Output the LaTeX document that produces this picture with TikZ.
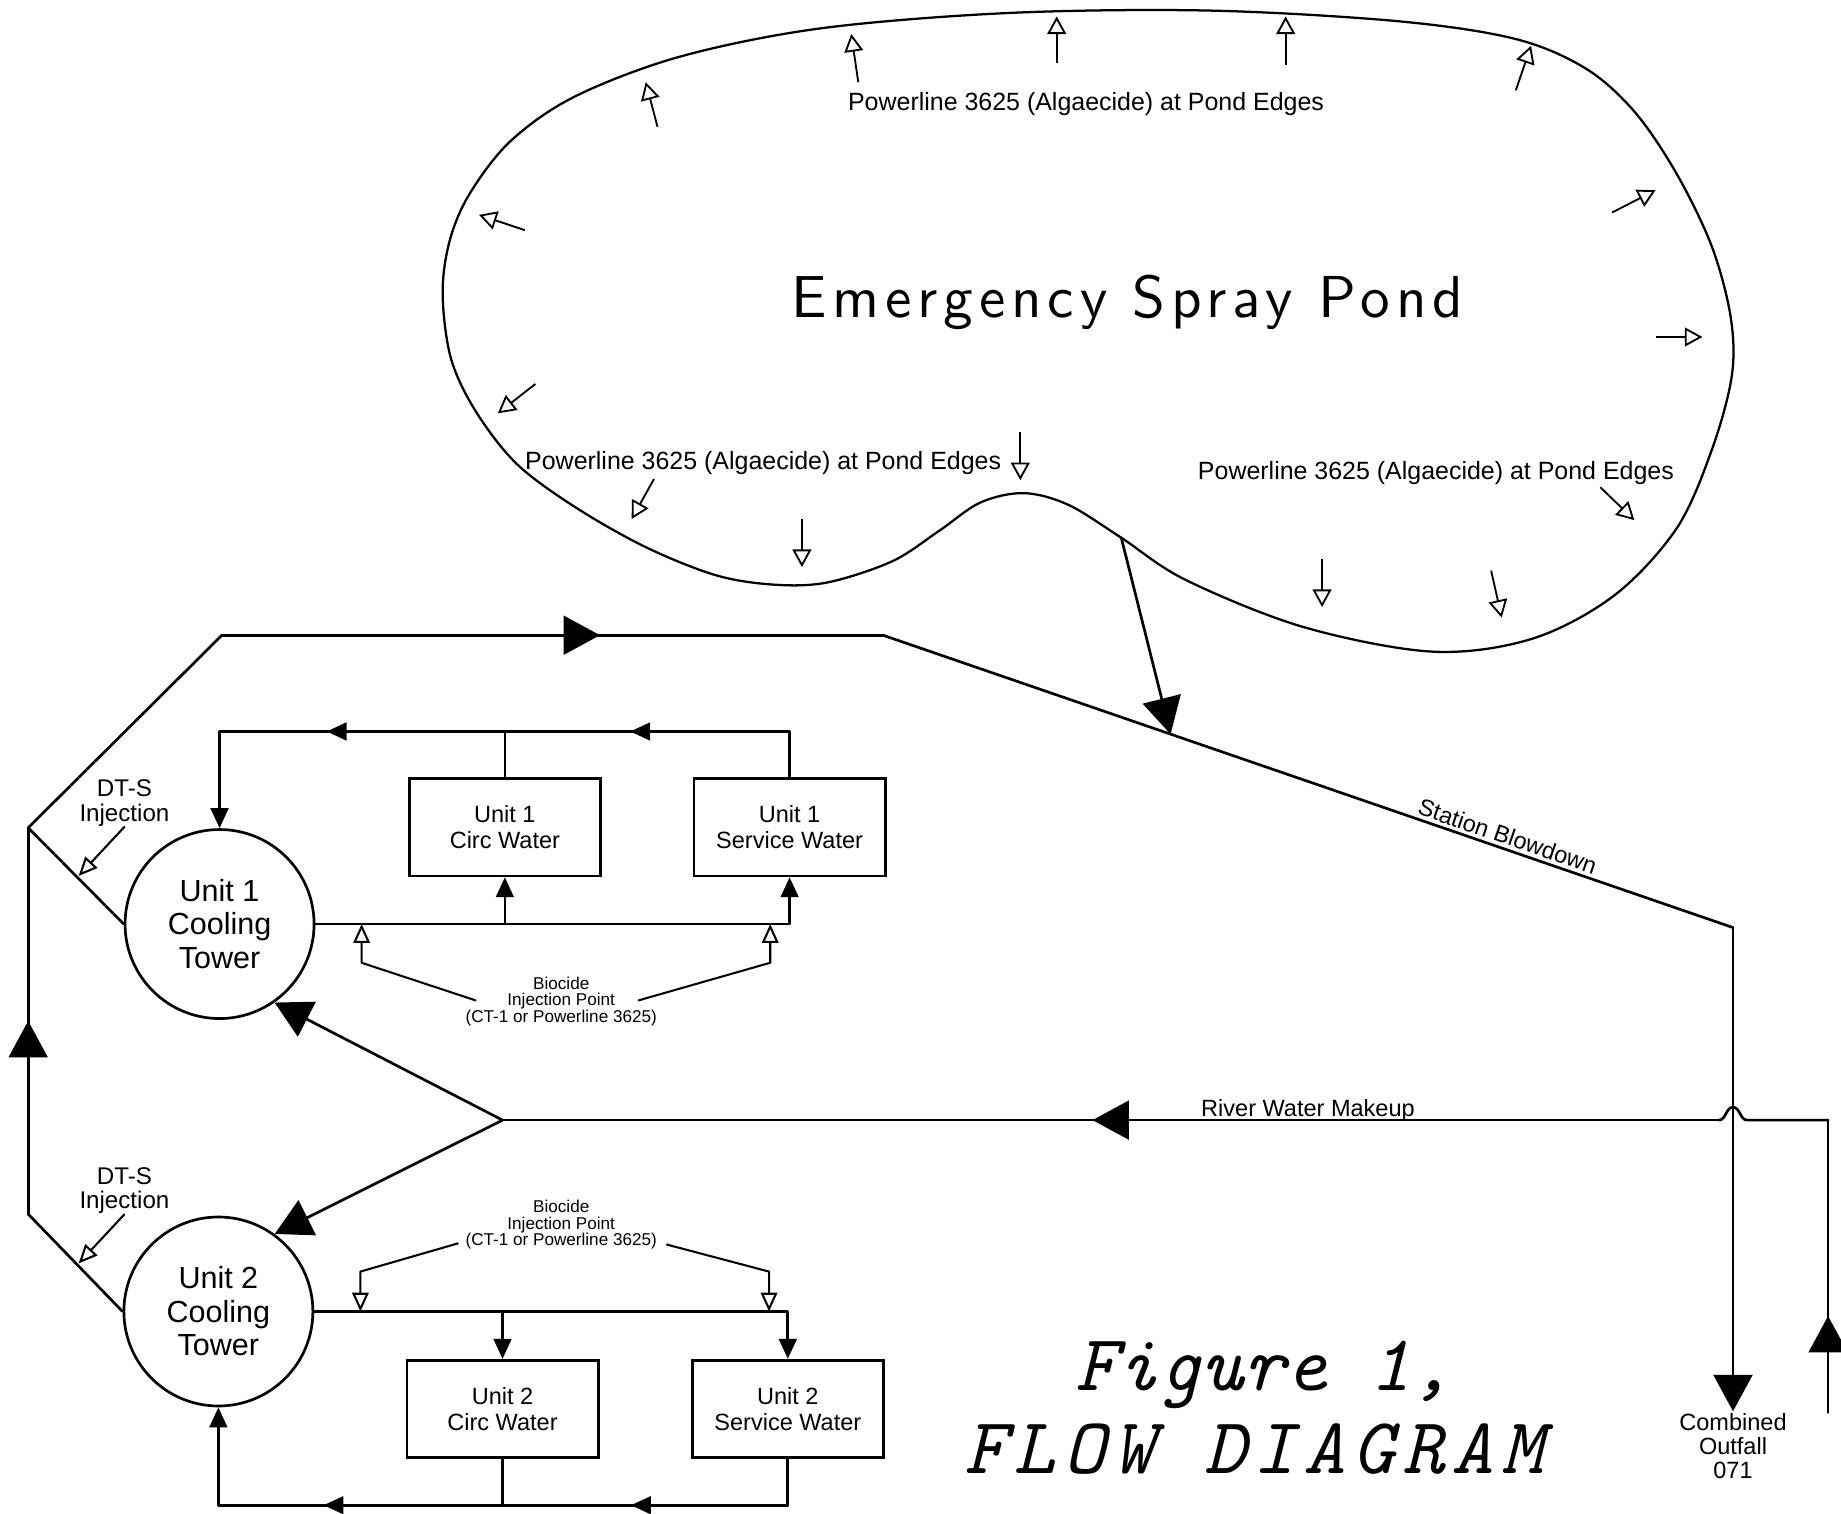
\documentclass[tikz,border=0pt]{standalone}
\usepackage{fontspec}
\setmainfont{Liberation Sans}
\newfontfamily\pondfont[LetterSpace=10]{lmsans10-regular.otf}
\newfontfamily\figfont{lmmono10-italic.otf}
\newfontfamily\figfontwide[LetterSpace=9.5]{lmmono10-italic.otf}
\usetikzlibrary{arrows.meta,decorations.markings}
\tikzset{
  flow/.style={line width=1.3pt, line cap=round, line join=round},
  thinline/.style={line width=1.0pt, line cap=round, line join=round},
  bigtip/.style={-{Triangle[length=0.62cm,width=0.66cm]}},
  midtip/.style={-{Triangle[length=0.34cm,width=0.3cm]}},
  opentip/.style={-{Triangle[open,length=0.32cm,width=0.28cm]}},
  pondtip/.style={line width=0.9pt,-{Triangle[open,length=0.3cm,width=0.32cm]}},
  bigmark/.style={postaction={decorate},decoration={markings,mark=at position #1 with {\arrow{Triangle[length=0.62cm,width=0.66cm]}}}},
  midmark/.style={postaction={decorate},decoration={markings,mark=at position #1 with {\arrow{Triangle[length=0.34cm,width=0.3cm]}}}},
  unitbox/.style={draw, line width=1.3pt, minimum width=3.26cm, minimum height=1.66cm, inner sep=0pt, align=center, font=\fontsize{11.4}{12.5}\selectfont},
  tower/.style={draw, circle, line width=1.3pt, minimum size=3.22cm, inner sep=0pt, align=center, font=\fontsize{14.8}{16.2}\selectfont},
  pondlabel/.style={inner sep=0pt, font=\fontsize{12.1}{13}\selectfont},
  smalllabel/.style={inner sep=0pt, align=center, font=\fontsize{11.7}{12}\selectfont},
  biolabel/.style={inner sep=0pt, align=center, font=\fontsize{8.3}{8}\selectfont},
}
\begin{document}
\begin{tikzpicture}[x=0.02cm,y=-0.02cm]
\useasboundingbox (0,0) rectangle (1568,1289);

% ---------------- Pond ----------------
\draw[line width=1.1pt] plot[smooth cycle, tension=0.55] coordinates {
 (377,250) (384,305) (405,350) (440,395) (490,432) (550,466) (610,490)
 (660,498) (705,496) (760,478) (800,452) (835,428) (872,420) (910,430)
 (955,458) (1010,494) (1110,534) (1220,555) (1305,544) (1375,507) (1428,450)
 (1458,383) (1475,320) (1474,270) (1458,210) (1428,148) (1392,95) (1350,58)
 (1290,33) (1190,18) (1030,9) (860,11) (700,24) (580,48) (490,82) (435,120)
 (400,165) (383,205)};
\coordinate (pondout) at (955,458);

\node[anchor=base, inner sep=0pt, font=\pondfont\fontsize{28.7}{30}\selectfont] (pondtitle) at (960,270) {Emergency Spray Pond};
\node[pondlabel] (pl1) at (925,89) {Powerline 3625 (Algaecide) at Pond Edges};
\node[pondlabel] (pl2) at (650,394) {Powerline 3625 (Algaecide) at Pond Edges};
\node[pondlabel] (pl3) at (1223,403) {Powerline 3625 (Algaecide) at Pond Edges};

\draw[pondtip] (560,108) -- (550,70);
\draw[pondtip] (731,70) -- (725,29);
\draw[pondtip] (900,54) -- (900,14);
\draw[pondtip] (1095,55) -- (1095,14);
\draw[pondtip] (1291,77) -- (1304,39);
\draw[pondtip] (1373,181) -- (1410,162);
\draw[pondtip] (1410,287) -- (1450,287);
\draw[pondtip] (447,196) -- (408,183);
\draw[pondtip] (456,327) -- (424,352);
\draw[pondtip] (869,368) -- (869,409);
\draw[pondtip] (557,408) -- (538,442);
\draw[pondtip] (683,442) -- (683,483);
\draw[pondtip] (1126,476) -- (1126,517);
\draw[pondtip] (1270,486) -- (1279,526);
\draw[pondtip] (1363,415) -- (1392,443);

% ---------------- Nodes ----------------
\node[tower] (ct1) at (187,787) {Unit 1\\Cooling\\Tower};
\node[tower] (ct2) at (186,1117) {Unit 2\\Cooling\\Tower};
\node[unitbox] (cw1) at (430,704.5) {Unit 1\\Circ Water};
\node[unitbox] (sw1) at (672.5,704.5) {Unit 1\\Service Water};
\node[unitbox] (cw2) at (428,1200) {Unit 2\\Circ Water};
\node[unitbox] (sw2) at (671,1200) {Unit 2\\Service Water};
\node[smalllabel] (dts1) at (106,684) {DT-S\\Injection};
\node[smalllabel] (dts2) at (106,1014) {DT-S\\Injection};
\node[biolabel] (bio1) at (478,853) {Biocide\\Injection Point\\(CT-1 or Powerline 3625)};
\node[biolabel] (bio2) at (478,1043) {Biocide\\Injection Point\\(CT-1 or Powerline 3625)};
\node[anchor=north, inner sep=1pt, align=center, font=\fontsize{11.4}{11.6}\selectfont] (outfall) at (1476,1202) {Combined\\Outfall\\071};
\node[anchor=base, inner sep=0pt, font=\fontsize{11.4}{12}\selectfont] (rwm) at (1114,951) {River Water Makeup};
\node[anchor=base west, inner sep=0pt, font=\figfont\fontsize{38.7}{40}\selectfont] (fig1) at (916,1184) {Figure 1,};
\node[anchor=base west, inner sep=0pt, font=\figfontwide\fontsize{38.7}{40}\selectfont] (fig2) at (821,1255) {FLOW DIAGRAM};

% ---------------- Coordinates ----------------
\coordinate (lb) at (24,1034);
\coordinate (lt) at (24,705);
\coordinate (tl) at (189,541);
\coordinate (tr) at (752,541);
\coordinate (br) at (1476,790);
\coordinate (bdj) at (997,625.3);
\coordinate (riv) at (1557,1203);
\coordinate (rc) at (1557,954);
\coordinate (jmpR) at (1488,954);
\coordinate (jmpL) at (1464,954);
\coordinate (rj) at (428,954);
\coordinate (j1c) at (430,787);
\coordinate (t1c) at (430,623);
\coordinate (t1r) at (672.5,623);
\coordinate (t1l) at (187,623);
\coordinate (j2c) at (428,1117);
\coordinate (b2c) at (428,1282);
\coordinate (b2r) at (671,1282);
\coordinate (b2l) at (186,1282);

% ---------------- Station loop ----------------
\draw[flow] (ct2.west) -- (lb);
\draw[flow, bigmark=0.5] (lb) -- (lt);
\draw[flow] (ct1.west) -- (lt);
\draw[flow] (lt) -- (tl);
\draw[flow, bigmark=0.572] (tl) -- (tr);
\draw[flow] (tr) -- node[sloped, above, pos=0.73, inner sep=1.5pt, font=\fontsize{11.4}{12}\selectfont] {Station Blowdown} (br);
\draw[flow, bigtip] (br) -- (outfall.north);
\draw[flow, bigtip] (pondout) -- (bdj);

% ---------------- River water ----------------
\draw[flow, bigmark=0.33] (riv) -- (rc);
\draw[flow] (rc) -- (jmpR) .. controls (1482,954) and (1482,943) .. (1476,943) .. controls (1470,943) and (1470,954) .. (jmpL);
\draw[flow, bigmark=0.515] (jmpL) -- (rj);
\draw[flow, bigtip] (rj) -- (ct1.-55);
\draw[flow, bigtip] (rj) -- (ct2.54);

% ---------------- Unit 1 loop ----------------
\draw[flow, midtip] (ct1.east) -| (sw1.south);
\draw[flow, midtip] (j1c) -- (cw1.south);
\draw[flow] (cw1.north) -- (t1c);
\draw[flow] (sw1.north) -- (t1r);
\draw[flow, midmark=0.56] (t1r) -- (t1c);
\draw[flow, midmark=0.625] (t1c) -- (t1l);
\draw[flow, midtip] (t1l) -- (ct1.north);

% ---------------- Unit 2 loop ----------------
\draw[flow, midtip] (ct2.east) -| (sw2.north);
\draw[flow, midtip] (j2c) -- (cw2.north);
\draw[flow] (cw2.south) -- (b2c);
\draw[flow] (sw2.south) -- (b2r);
\draw[flow, midmark=0.55] (b2r) -- (b2c);
\draw[flow, midmark=0.63] (b2c) -- (b2l);
\draw[flow, midtip] (b2l) -- (ct2.south);

% ---------------- Injection leaders ----------------
\coordinate (bio1l) at (405,852);
\coordinate (bio1r) at (544,852);
\coordinate (bio2l) at (390,1059);
\coordinate (bio2r) at (568,1060);
\draw[thinline, opentip] (bio1l) -- (308,820) -- (308,787);
\draw[thinline, opentip] (bio1r) -- (656,820) -- (656,787);
\draw[thinline, opentip] (bio2l) -- (307,1083) -- (307,1117);
\draw[thinline, opentip] (bio2r) -- (655,1083) -- (655,1117);
\draw[thinline, opentip] (dts1.south) -- (67,746);
\draw[thinline, opentip] (dts2.south) -- (67,1076);
\end{tikzpicture}
\end{document}
